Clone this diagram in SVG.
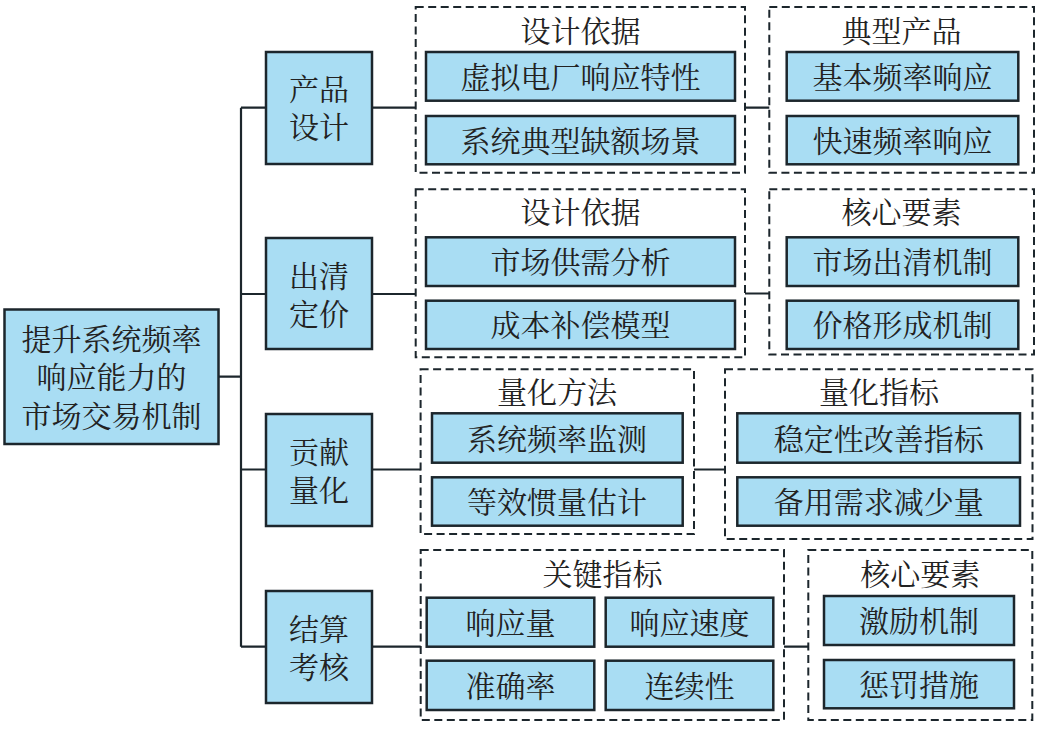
<svg xmlns="http://www.w3.org/2000/svg" width="1044" height="731" viewBox="0 0 1044 731">
<style>
.box{fill:#a9ddf3;stroke:#1c262c;stroke-width:2.5}
.grp{fill:none;stroke:#1c262c;stroke-width:2;stroke-dasharray:8 4.5}
.ln{fill:none;stroke:#1c262c;stroke-width:2.2}
text{font-family:"Noto Serif CJK SC","Noto Sans CJK SC",serif;font-size:30px;fill:#222;text-anchor:middle;dominant-baseline:central}
</style>
<rect width="1044" height="731" fill="#fff"/>
<g id="connectors">
<path class="ln" d="M218.5 376.7H241M241 107.7V646.7M241 107.7H266M241 294H266M241 469.5H266M241 646.7H266"/>
<path class="ln" d="M372 107.7H415.7M372 294H415.7M372 469.5H420.6M372 646.7H420.7"/>
<path class="ln" d="M745 107.7H769.3M745 293.5H769.3M694 469.5H725M784 646.7H808.3"/>
</g>
<g id="root">
<rect class="box" x="4.5" y="309.5" width="214" height="134.5"/>
<text x="111.5" y="337"><tspan x="111.5" y="337">提升系统频率</tspan><tspan x="111.5" y="375">响应能力的</tspan><tspan x="111.5" y="413.5">市场交易机制</tspan></text>
</g>
<g id="n-design">
<rect class="box" x="266" y="52" width="106" height="112"/>
<text x="319" y="86.5"><tspan x="319" y="86.5">产品</tspan><tspan x="319" y="124.5">设计</tspan></text>
</g>
<g id="n-clear">
<rect class="box" x="266" y="238" width="106" height="111"/>
<text x="319" y="273.5"><tspan x="319" y="273.5">出清</tspan><tspan x="319" y="311.5">定价</tspan></text>
</g>
<g id="n-quant">
<rect class="box" x="266" y="414" width="106" height="112"/>
<text x="319" y="449.5"><tspan x="319" y="449.5">贡献</tspan><tspan x="319" y="487.5">量化</tspan></text>
</g>
<g id="n-settle">
<rect class="box" x="266" y="591" width="106" height="112"/>
<text x="319" y="626.5"><tspan x="319" y="626.5">结算</tspan><tspan x="319" y="664.5">考核</tspan></text>
</g>
<g id="g-a1">
<rect class="grp" x="415.7" y="7" width="329.3" height="165.7"/>
<text x="580.5" y="28.5">设计依据</text>
<rect class="box" x="426" y="52" width="309" height="48.7"/>
<text x="580.5" y="75">虚拟电厂响应特性</text>
<rect class="box" x="426" y="116" width="309" height="48.3"/>
<text x="580.5" y="138.5">系统典型缺额场景</text>
</g>
<g id="g-a2">
<rect class="grp" x="769.3" y="7" width="264.7" height="165.7"/>
<text x="901.5" y="28.5">典型产品</text>
<rect class="box" x="786.7" y="52" width="231.6" height="48.7"/>
<text x="902.5" y="75">基本频率响应</text>
<rect class="box" x="786.7" y="116" width="231.6" height="48.3"/>
<text x="902.5" y="138.5">快速频率响应</text>
</g>
<g id="g-b1">
<rect class="grp" x="415.7" y="189.3" width="329.3" height="168"/>
<text x="580.5" y="209.5">设计依据</text>
<rect class="box" x="426" y="237.3" width="309" height="48.7"/>
<text x="580.5" y="260">市场供需分析</text>
<rect class="box" x="426" y="300.7" width="309" height="48.3"/>
<text x="580.5" y="323.3">成本补偿模型</text>
</g>
<g id="g-b2">
<rect class="grp" x="769.3" y="189.3" width="264.7" height="165.3"/>
<text x="901.5" y="209.5">核心要素</text>
<rect class="box" x="786.7" y="237.3" width="231.6" height="48.7"/>
<text x="902.5" y="260">市场出清机制</text>
<rect class="box" x="786.7" y="300.7" width="231.6" height="48.3"/>
<text x="902.5" y="323.3">价格形成机制</text>
</g>
<g id="g-c1">
<rect class="grp" x="420.6" y="369.3" width="273.4" height="164.7"/>
<text x="557" y="389.5">量化方法</text>
<rect class="box" x="432" y="413.3" width="250.7" height="49.4"/>
<text x="557" y="436.5">系统频率监测</text>
<rect class="box" x="432" y="477.3" width="250.7" height="48.4"/>
<text x="557" y="500">等效惯量估计</text>
</g>
<g id="g-c2">
<rect class="grp" x="725" y="369.3" width="307.5" height="169.7"/>
<text x="879" y="389.5">量化指标</text>
<rect class="box" x="737.3" y="413.3" width="282.7" height="49.4"/>
<text x="878.7" y="436.5">稳定性改善指标</text>
<rect class="box" x="737.3" y="477.3" width="282.7" height="48.4"/>
<text x="878.7" y="500">备用需求减少量</text>
</g>
<g id="g-d1">
<rect class="grp" x="420.7" y="550" width="363.3" height="170"/>
<text x="602.5" y="571.5">关键指标</text>
<rect class="box" x="426.7" y="597.7" width="167.6" height="49"/>
<text x="510.5" y="620.5">响应量</text>
<rect class="box" x="605.7" y="597.7" width="167.6" height="49"/>
<text x="689.5" y="620.5">响应速度</text>
<rect class="box" x="426.7" y="660.7" width="167.6" height="49.3"/>
<text x="510.5" y="683.8">准确率</text>
<rect class="box" x="605.7" y="660.7" width="167.6" height="49.3"/>
<text x="689.5" y="683.8">连续性</text>
</g>
<g id="g-d2">
<rect class="grp" x="808.3" y="550" width="224" height="170"/>
<text x="920.3" y="571.5">核心要素</text>
<rect class="box" x="824" y="596" width="190" height="49"/>
<text x="919" y="619">激励机制</text>
<rect class="box" x="824" y="660" width="190" height="48.3"/>
<text x="919" y="682.5">惩罚措施</text>
</g>
</svg>
